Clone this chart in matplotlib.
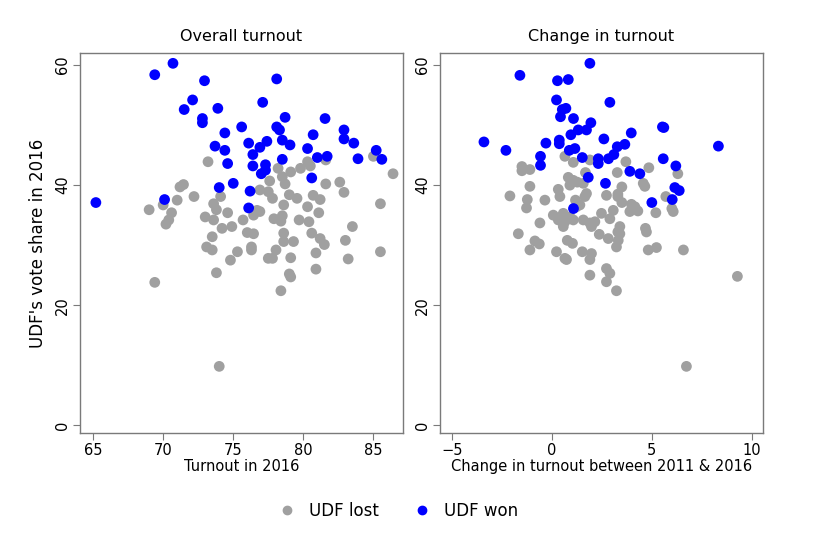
import numpy as np
import matplotlib
matplotlib.use("Agg")
import matplotlib.pyplot as plt
from matplotlib.lines import Line2D

# Overall turnout panel: (turnout 2016, UDF vote share 2016)
turnout_won = [69.4, 70.7, 72.95, 78.1, 72.1, 71.5, 73.9, 77.1, 72.8, 72.8, 78.7, 81.55,
               75.6, 78.1, 78.3, 74.4, 80.7, 82.9, 82.9, 83.6, 76.1, 77.4, 76.9, 78.5,
               79.05, 73.7, 74.4, 76.4, 80.3, 85.2, 85.6, 83.9, 81.0, 81.7, 78.5, 74.6,
               76.4, 77.3, 77.3, 77.0, 80.6, 75.0, 74.0, 76.2, 65.2, 70.1, 76.1]
share_won_l = [58.4, 60.3, 57.4, 57.7, 54.2, 52.6, 52.8, 53.8, 51.1, 50.4, 51.3, 51.1,
               49.7, 49.7, 49.2, 48.7, 48.4, 49.2, 47.7, 47.0, 47.0, 47.3, 46.3, 47.5,
               46.7, 46.5, 45.8, 45.1, 46.1, 45.8, 44.3, 44.4, 44.6, 44.8, 44.3, 43.6,
               43.2, 43.4, 42.5, 41.9, 41.2, 40.3, 39.6, 39.0, 37.1, 37.6, 36.2]
turnout_lost = [73.2, 80.3, 80.5, 79.8, 78.2, 79.1, 85.0, 81.6, 86.4, 78.5, 77.6, 78.7,
                81.6, 82.6, 82.9, 71.45, 71.2, 76.9, 77.5, 77.8, 79.0, 79.55, 80.7, 81.2,
                72.2, 71.0, 74.1, 73.6, 73.8, 74.6, 69.0, 70.0, 70.6, 70.4, 70.2, 73.0,
                73.6, 74.9, 74.2, 76.7, 76.9, 75.7, 76.45, 77.9, 78.5, 78.6, 80.3, 81.1,
                79.7, 80.4, 83.5, 85.5, 76.0, 76.45, 73.5, 78.6, 80.6, 81.2, 83.0,
                73.1, 73.5, 75.3, 74.8, 73.8, 76.3, 76.3, 78.4, 78.6, 79.3, 78.05, 77.5,
                77.8, 79.1, 81.5, 80.9, 80.9, 79.0, 79.1, 78.4, 69.4, 83.2, 85.5, 74.0]
share_lost_l = [43.9, 43.9, 43.2, 42.8, 42.8, 42.2, 44.8, 44.2, 41.9, 41.4, 40.7, 40.2,
                40.2, 40.5, 38.8, 40.1, 39.7, 39.2, 38.9, 37.8, 38.4, 37.8, 38.3, 37.6,
                38.1, 37.5, 38.1, 36.9, 35.9, 35.4, 35.9, 36.7, 35.4, 34.2, 33.5, 34.7,
                34.2, 33.1, 32.8, 35.8, 35.6, 34.2, 35.0, 34.4, 34.9, 36.7, 36.4, 35.4,
                34.2, 33.9, 33.1, 36.9, 32.1, 31.9, 31.4, 32.0, 32.0, 31.1, 30.8,
                29.7, 29.2, 28.9, 27.5, 25.4, 29.7, 29.2, 34.0, 30.6, 30.6, 29.2, 27.8,
                27.8, 27.9, 30.1, 28.7, 26.0, 25.2, 24.7, 22.4, 23.8, 27.7, 28.9, 9.8]

# Change in turnout panel: (change 2011-2016, UDF vote share 2016)
change_won = [1.9, -1.6, 0.28, 0.82, 2.9, 0.23, 0.52, 0.7, 0.43, 1.08, 1.95, 5.53, 5.6,
              1.32, 1.73, 0.95, 3.97, 2.6, -3.4, -0.3, 0.37, 0.37, 3.65, 3.27, 8.33,
              -2.3, 0.87, 1.15, 3.1, -0.57, 1.52, 2.32, 2.32, 2.83, 5.57, -0.57, 6.2,
              3.9, 4.4, 1.82, 2.68, 6.15, 6.37, 5.0, 6.02, 1.08]
share_won_r = [60.3, 58.3, 57.4, 57.6, 53.8, 54.2, 52.6, 52.8, 51.4, 51.1, 50.4, 49.7, 49.6,
               49.2, 49.2, 48.4, 48.7, 47.7, 47.2, 47.0, 47.5, 46.9, 46.8, 46.4, 46.5,
               45.8, 45.8, 46.1, 45.1, 44.8, 44.6, 44.4, 43.6, 44.4, 44.4, 43.3, 43.2,
               42.3, 41.9, 41.3, 40.3, 39.6, 39.1, 37.1, 37.6, 36.1]
change_lost = [0.65, 1.07, -1.5, -1.5, -1.1, 1.9, 3.7, 4.85, 3.27, 6.3, 0.82, 1.07, 1.27,
               1.68, 0.9, 1.57, -1.1, 0.32, 0.4, 1.73, 1.65, 2.73, 3.3, 3.5, 3.3, 4.57,
               4.65, -2.1, -1.23, -1.27, -0.35, 1.18, 1.4, 1.23, 3.5, 3.98, 4.15, 3.9,
               4.3, 5.7, 6.0, 6.07, 5.2, 3.07, 2.9, 2.48, 0.07, 0.32, 0.57, 0.65, 0.9,
               1.07, 1.57, 1.9, 1.98, 2.15, -0.6, 0.57, -1.68, 3.4, 3.3, 4.68, 4.73,
               -0.85, -0.63, -1.1, 0.23, 0.65, 0.73, 0.77, 1.03, 1.52, 1.98, 1.9, 1.9,
               2.37, 2.82, 3.23, 3.32, 3.4, 2.73, 2.9, 2.73, 3.23, 4.82, 5.23, 6.58,
               9.28, 6.73]
share_lost_r = [44.8, 43.8, 43.1, 42.4, 42.6, 44.2, 43.9, 42.9, 42.1, 41.9, 41.3, 40.8, 40.5,
                42.1, 40.0, 40.3, 39.8, 39.3, 38.1, 38.6, 38.1, 38.3, 38.5, 39.7, 38.1, 40.3,
                39.8, 38.2, 37.6, 36.2, 37.5, 37.5, 36.7, 36.4, 37.1, 36.8, 36.4, 35.6,
                35.7, 38.1, 36.1, 35.6, 35.4, 35.8, 34.4, 35.3, 35.0, 34.2, 35.3, 33.9, 34.7,
                34.2, 34.2, 33.7, 33.1, 33.9, 33.7, 33.1, 31.9, 33.1, 32.2, 32.8, 32.2,
                30.7, 30.2, 29.2, 28.9, 27.8, 27.6, 30.8, 30.3, 28.9, 28.6, 27.6, 25.0,
                31.8, 31.1, 29.7, 30.8, 31.9, 26.1, 25.3, 23.9, 22.4, 29.2, 29.6, 29.2,
                24.8, 9.8]

grey = "#a0a0a0"
blue = "#0000ff"
frame = "#7a7a7a"

fig = plt.figure(figsize=(8.32, 5.35), dpi=100)
ax1 = fig.add_axes([0.0962, 0.1907, 0.388, 0.710])
ax2 = fig.add_axes([0.5288, 0.1907, 0.388, 0.710])

panels = [
    (ax1, turnout_lost, share_lost_l, turnout_won, share_won_l, "Overall turnout",
     "Turnout in 2016", (64.07, 87.1), [65, 70, 75, 80, 85]),
    (ax2, change_lost, share_lost_r, change_won, share_won_r, "Change in turnout",
     "Change in turnout between 2011 & 2016", (-5.6, 10.55), [-5, 0, 5, 10]),
]

for ax, xl, yl, xw, yw, title, xlabel, xlim, xticks in panels:
    ax.scatter(xl, yl, s=60, color=grey, edgecolors="none", zorder=2)
    ax.scatter(xw, yw, s=60, color=blue, edgecolors="none", zorder=3)
    ax.set_xlim(*xlim)
    ax.set_ylim(-1.3, 62)
    ax.set_xticks(xticks)
    ax.set_yticks([0, 20, 40, 60])
    ax.set_title(title, fontsize=11.5, pad=9)
    ax.set_xlabel(xlabel, fontsize=10.5, labelpad=1)
    for sp in ax.spines.values():
        sp.set_color(frame)
        sp.set_linewidth(1.0)
    ax.tick_params(direction="out", length=5, color=frame, labelsize=10.5, pad=2)
    for lab in ax.get_yticklabels():
        lab.set_rotation(90)
        lab.set_va("center")

ax1.set_ylabel("UDF's vote share in 2016", fontsize=12, labelpad=6)

handles = [
    Line2D([], [], marker="o", ls="none", color=grey, markersize=6),
    Line2D([], [], marker="o", ls="none", color=blue, markersize=6),
]
fig.legend(handles, ["UDF lost", "UDF won"], loc="center", ncol=2,
           bbox_to_anchor=(0.474, 0.045), frameon=False, fontsize=12,
           handletextpad=0.3, columnspacing=1.6)

fig.savefig("out.png", dpi=100)
